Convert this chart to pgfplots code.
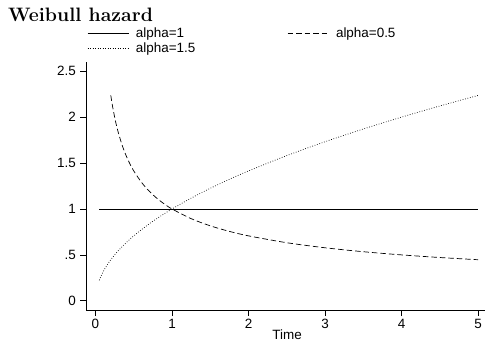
\documentclass[border=0pt]{standalone}
\usepackage{pgfplots}
\pgfplotsset{compat=1.18}
\usepackage{fontspec}
\newfontfamily\lsans{Liberation Sans}
\begin{document}
\begin{tikzpicture}
\path[use as bounding box] (-86bp,-31bp) rectangle (399bp,310bp);
\node[anchor=base west, inner sep=0pt, font=\fontsize{19.5}{21}\selectfont\bfseries] at (-78bp,288bp) {Weibull hazard};
\begin{axis}[
  at={(0,0)}, anchor=south west,
  scale only axis, width=399bp, height=248bp,
  xmin=-0.124, xmax=5.09, ymin=-0.1, ymax=2.6,
  axis x line*=bottom, axis y line*=left,
  axis line style={-, line width=0.7pt},
  tick align=outside, major tick length=6bp,
  tick style={line width=0.7pt, black},
  xtick={0,1,2,3,4,5}, xticklabels={0,1,2,3,4,5},
  ytick={0,0.5,1,1.5,2,2.5}, yticklabels={0,.5,1,1.5,2,2.5},
  ticklabel style={font=\lsans\fontsize{13.5}{15}\selectfont, inner sep=3bp},
  yticklabel style={inner sep=4bp},
  xlabel={Time},
  xlabel style={font=\lsans\fontsize{13.5}{15}\selectfont, at={(axis description cs:0.504,0)}, anchor=north, yshift=-19.5bp, inner sep=0pt},
  legend columns=2,
  legend cell align=left,
  legend style={at={(axis description cs:0,1)}, anchor=south west, xshift=1bp, yshift=6bp,
    draw=none, fill=none, inner sep=0pt, row sep=0bp,
    font=\lsans\fontsize{13.5}{15}\selectfont,
    /tikz/column 1/.style={column sep=5bp},
    /tikz/column 3/.style={column sep=5bp},
    /tikz/column 2/.style={column sep=90bp}},
  legend image code/.code={\draw[#1] (0bp,0bp) -- (41bp,0bp);},
]
\addplot[black, line width=0.7pt] coordinates {(0.05,1) (5,1)};
\addlegendentry{alpha=1}
\addplot[black, line width=0.7pt, dash pattern=on 5.5bp off 3bp, smooth] coordinates {
(0.2,2.2361) (0.22,2.1320) (0.25,2) (0.27,1.9245) (0.3,1.8257) (0.35,1.6903) (0.4,1.5811) (0.45,1.4907)
(0.5,1.4142) (0.6,1.2910) (0.7,1.1952) (0.8,1.1180) (0.9,1.0541) (1,1) (1.25,0.8944) (1.5,0.8165)
(1.75,0.7559) (2,0.7071) (2.5,0.6325) (3,0.5774) (3.5,0.5345) (4,0.5) (4.5,0.4714) (5,0.4472)};
\addlegendentry{alpha=0.5}
\addplot[black, line width=0.7pt, dash pattern=on 0.7bp off 1.8bp, smooth] coordinates {
(0.05,0.2236) (0.07,0.2646) (0.1,0.3162) (0.15,0.3873) (0.2,0.4472) (0.25,0.5) (0.3,0.5477) (0.35,0.5916)
(0.4,0.6325) (0.45,0.6708) (0.5,0.7071) (0.6,0.7746) (0.7,0.8367) (0.8,0.8944) (0.9,0.9487) (1,1)
(1.25,1.1180) (1.5,1.2247) (1.75,1.3229) (2,1.4142) (2.5,1.5811) (3,1.7321) (3.5,1.8708) (4,2)
(4.5,2.1213) (5,2.2361)};
\addlegendentry{alpha=1.5}
\end{axis}
\end{tikzpicture}
\end{document}
